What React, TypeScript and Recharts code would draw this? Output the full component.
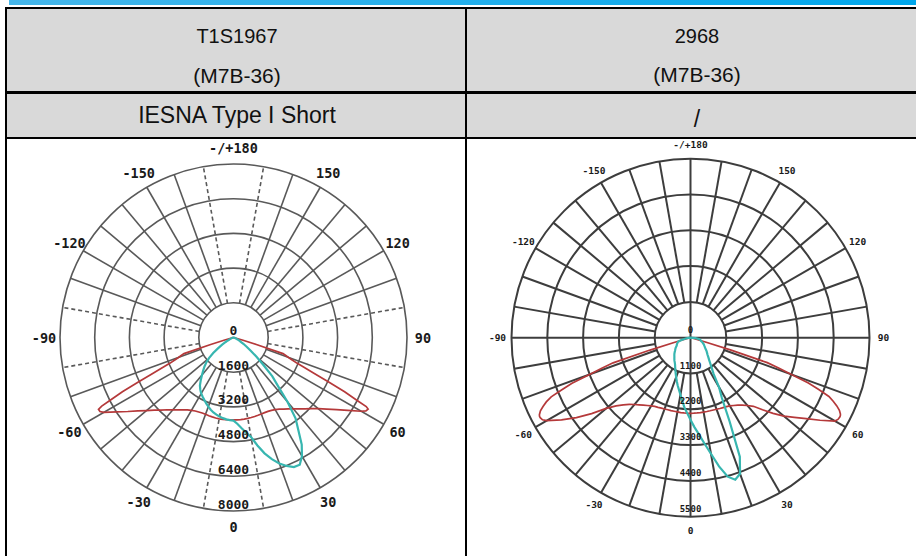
import { RadarChart, Radar, PolarGrid, PolarAngleAxis, PolarRadiusAxis } from "recharts";

// vertical angle (gamma) of each sample, degrees; 0 = nadir, +/-90 = horizontal
const GAMMA = [
  -90, -85, -80, -76, -74, -73, -72, -71, -70, -69, -68, -67, -66, -65, -64, -63, -62.5, -62, -61, -60,
  -57.5, -55, -52.5, -50, -47.5, -45, -42.5, -40, -37.5, -35, -32.5, -30, -27.5, -25, -22.5, -20, -17.5, -15, -12.5, -10, -7.5, -5, -2.5,
  0,
  2.5, 5, 7.5, 10, 12.5, 15, 17.5, 20, 22.5, 25, 27.5, 30, 32.5, 35, 37.5, 40, 42.5, 45, 47.5, 50, 52.5, 55, 57.5,
  60, 61, 62, 62.5, 63, 64, 65, 66, 67, 68, 69, 70, 71, 72, 73, 74, 76, 80, 85, 90,
];

// T1S1967 candela, C0-180 plane (red)
const LEFT_C0 = [
  0, 5, 20, 90, 420, 1100, 2400, 2550, 2700, 2900, 3150, 3550, 4100, 4800, 5700, 6400, 6850, 7050, 7040, 6900,
  6380, 5950, 5560, 5240, 4960, 4730, 4520, 4360, 4200, 4070, 3960, 3880, 3820, 3790, 3770, 3770, 3780, 3790, 3800, 3810, 3805, 3800, 3798,
  3795,
  3798, 3800, 3795, 3790, 3780, 3770, 3760, 3750, 3750, 3760, 3790, 3840, 3920, 4030, 4150, 4300, 4460, 4650, 4860, 5100, 5420, 5800, 6250,
  6800, 6980, 7030, 6900, 6400, 5700, 4800, 4100, 3550, 3150, 2900, 2700, 2550, 2400, 1100, 420, 90, 20, 5, 0,
];

// T1S1967 candela, C90-270 plane (teal)
const LEFT_C90 = [
  0, 5, 20, 45, 60, 70, 80, 85, 90, 100, 115, 130, 150, 180, 210, 250, 275, 300, 350, 415,
  620, 875, 1180, 1475, 1700, 1890, 2070, 2260, 2480, 2700, 2850, 2980, 3080, 3180, 3290, 3390, 3490, 3580, 3640, 3700, 3750, 3790, 3810,
  3830,
  3980, 4190, 4420, 4660, 5100, 5530, 5880, 6180, 6410, 6590, 6615, 6315, 5855, 5210, 4700, 3870, 3040, 2535, 1845, 1385, 1015, 740, 540,
  370, 330, 300, 285, 270, 240, 185, 160, 140, 120, 105, 90, 80, 70, 60, 50, 40, 20, 5, 0,
];

// 2968 candela, C0-180 plane (red)
const RIGHT_C0 = [
  0, 5, 20, 100, 450, 1300, 2500, 2900, 3300, 3900, 4250, 4650, 4850, 5000, 5130, 5210, 5230, 5230, 5200, 5100,
  4700, 4280, 3830, 3380, 3100, 2920, 2780, 2680, 2600, 2530, 2470, 2420, 2380, 2360, 2340, 2330, 2320, 2320, 2315, 2315, 2320, 2320, 2322,
  2325,
  2322, 2320, 2320, 2320, 2322, 2325, 2330, 2340, 2355, 2370, 2390, 2420, 2470, 2530, 2610, 2720, 2860, 3130, 3440, 3750, 4020, 4340, 4720,
  5120, 5180, 5195, 5190, 5170, 5090, 4960, 4800, 4620, 4250, 3880, 3300, 2880, 2480, 1280, 450, 100, 20, 5, 0,
];

// 2968 candela, C90-270 plane (teal)
const RIGHT_C90 = [
  0, 60, 150, 280, 340, 370, 400, 410, 420, 425, 430, 440, 450, 460, 465, 470, 475, 478, 484, 490,
  525, 560, 590, 620, 660, 700, 735, 770, 815, 860, 900, 950, 1020, 1100, 1190, 1290, 1400, 1520, 1640, 1780, 1950, 2150, 2320,
  2520,
  2750, 2980, 3280, 3620, 4050, 4420, 4575, 4450, 3960, 2850, 2090, 1750, 1320, 1140, 1000, 890, 810, 740, 690, 645, 595, 550, 520,
  490, 480, 470, 465, 460, 450, 430, 420, 410, 400, 390, 370, 360, 350, 340, 330, 320, 280, 150, 0,
];

const ANGLE_TICKS = [-150, -120, -90, -60, -30, 0, 30, 60, 90, 120, 150, 180];
const LEFT_RINGS = [0, 1600, 3200, 4800, 6400, 8000];
const RIGHT_RINGS = [0, 1100, 2200, 3300, 4400, 5500];

const SPOKES = [
  -170, -160, -150, -140, -130, -120, -110, -100, -80, -70, -60, -50, -40, -30, -20, -10,
  10, 20, 30, 40, 50, 60, 70, 80, 100, 110, 120, 130, 140, 150, 160, 170,
];
const NEAR_AXIS = [-170, -100, -80, -10, 10, 80, 100, 170];
const AXES = [-90, 0, 90, 180];

const START_ANGLE = -270;
const END_ANGLE = 90;
const toScreen = (g: number) => START_ANGLE + ((g + 180) / 360) * (END_ANGLE - START_ANGLE);

const RED = "#b5393a";
const TEAL = "#37b6b0";
const MONO = "DejaVu Sans Mono, monospace";

type DiagramProps = {
  left: number;
  top: number;
  width: number;
  height: number;
  cx: number;
  cy: number;
  outer: number;
  rings: number[];
  c0: number[];
  c90: number[];
  solid: number[];
  dashed: number[];
  axisLines: boolean;
  gridColor: string;
  gridWidth: number;
  angleFont: number;
  radiusFont: number;
  tickGap: number;
  labelLift: number;
  fmtRadius: (v: number) => string;
};

function PolarDiagram(p: DiagramProps) {
  const rows = GAMMA.map((g, i) => ({ g, c0: p.c0[i], c90: p.c90[i] }));
  const last = p.rings[p.rings.length - 1];
  const inner = (p.outer * p.rings[1]) / last;
  const common = {
    width: p.width,
    height: p.height,
    cx: p.cx,
    cy: p.cy,
    outerRadius: p.outer,
    startAngle: START_ANGLE,
    endAngle: END_ANGLE,
    margin: { top: 0, right: 0, bottom: 0, left: 0 },
    data: rows,
  };

  return (
    <div style={{ position: "absolute", left: p.left, top: p.top, width: p.width, height: p.height }}>
      {p.axisLines && (
        <div style={{ position: "absolute", left: 0, top: 0 }}>
          <RadarChart {...common} innerRadius={0}>
            <PolarGrid
              polarAngles={AXES.map(toScreen)}
              polarRadius={[]}
              stroke={p.gridColor}
              strokeWidth={p.gridWidth}
            />
          </RadarChart>
        </div>
      )}
      <div style={{ position: "absolute", left: 0, top: 0 }}>
        <RadarChart {...common} innerRadius={inner}>
          <PolarGrid gridType="circle" radialLines={false} stroke={p.gridColor} strokeWidth={p.gridWidth} />
          <PolarGrid polarAngles={p.solid.map(toScreen)} polarRadius={[]} stroke={p.gridColor} strokeWidth={p.gridWidth} />
          <PolarGrid
            polarAngles={p.dashed.map(toScreen)}
            polarRadius={[]}
            stroke={p.gridColor}
            strokeWidth={p.gridWidth}
            strokeDasharray="4 3"
          />
          <PolarAngleAxis
            dataKey="g"
            type="number"
            domain={[-180, 180]}
            ticks={ANGLE_TICKS}
            tickLine={false}
            axisLine={false}
            tickSize={p.tickGap}
            tick={(t: any) => (
              <text
                x={t.x}
                y={t.y}
                textAnchor="middle"
                dominantBaseline="central"
                fontFamily={MONO}
                fontWeight="bold"
                fontSize={p.angleFont}
                fill="#1a1a1a"
              >
                {t.payload.value === 180 ? "-/+180" : String(t.payload.value)}
              </text>
            )}
          />
          <PolarRadiusAxis
            angle={-90}
            type="number"
            domain={[p.rings[1], last]}
            allowDataOverflow
            ticks={p.rings}
            axisLine={false}
            tick={(t: any) => (
              <text
                x={t.x}
                y={t.y - p.labelLift}
                textAnchor="middle"
                dominantBaseline="central"
                fontFamily={MONO}
                fontWeight="bold"
                fontSize={p.radiusFont}
                fill="#1a1a1a"
              >
                {p.fmtRadius(t.payload.value)}
              </text>
            )}
          />
          <Radar dataKey="c0" stroke={RED} strokeWidth={1.7} fill="none" fillOpacity={0} dot={false} isAnimationActive={false} />
          <Radar dataKey="c90" stroke={TEAL} strokeWidth={2.2} fill="none" fillOpacity={0} dot={false} isAnimationActive={false} />
        </RadarChart>
      </div>
    </div>
  );
}

const HEAD_BG = "#d9d9d9";

function Cell({ left, top, width, size, text }: { left: number; top: number; width: number; size: number; text: string }) {
  return (
    <div
      style={{
        position: "absolute",
        left,
        top,
        width,
        fontSize: size,
        lineHeight: `${size}px`,
        textAlign: "center",
        color: "#111",
        whiteSpace: "nowrap",
      }}
    >
      {text}
    </div>
  );
}

export default function App() {
  const line = (l: number, t: number, w: number, h: number) => (
    <div style={{ position: "absolute", left: l, top: t, width: w, height: h, background: "#000" }} />
  );
  return (
    <div
      style={{
        position: "absolute",
        left: 0,
        top: 0,
        width: 916,
        height: 556,
        overflow: "hidden",
        background: "#fff",
        fontFamily: '"Liberation Sans", Arial, sans-serif',
      }}
    >
      <div
        style={{
          position: "absolute",
          left: 9,
          top: 0,
          width: 907,
          height: 4.5,
          background: "linear-gradient(90deg, #45b6ea, #00a7ec)",
        }}
      />
      <div style={{ position: "absolute", left: 6, top: 8, width: 930, height: 130, background: HEAD_BG }} />

      <Cell left={8} top={25.8} width={458} size={20} text="T1S1967" />
      <Cell left={8} top={64.5} width={458} size={21} text="(M7B-36)" />
      <Cell left={8} top={103.8} width={458} size={23} text="IESNA Type I Short" />
      <Cell left={467} top={25.8} width={460} size={20} text="2968" />
      <Cell left={467} top={64} width={460} size={21} text="(M7B-36)" />
      <Cell left={467} top={108} width={460} size={23} text="/" />

      <PolarDiagram
        left={6}
        top={138}
        width={460}
        height={418}
        cx={227.5}
        cy={199.5}
        outer={173.5}
        rings={LEFT_RINGS}
        c0={LEFT_C0}
        c90={LEFT_C90}
        solid={SPOKES.filter((s) => !NEAR_AXIS.includes(s))}
        dashed={NEAR_AXIS}
        axisLines={false}
        gridColor="#595959"
        gridWidth={1.6}
        angleFont={13.5}
        radiusFont={13}
        tickGap={16}
        labelLift={7}
        fmtRadius={(v) => String(v)}
      />
      <PolarDiagram
        left={467}
        top={138}
        width={449}
        height={418}
        cx={223.5}
        cy={199.7}
        outer={179}
        rings={RIGHT_RINGS}
        c0={RIGHT_C0}
        c90={RIGHT_C90}
        solid={SPOKES}
        dashed={[]}
        axisLines={true}
        gridColor="#3d3d3d"
        gridWidth={2}
        angleFont={9.5}
        radiusFont={9}
        tickGap={14}
        labelLift={8}
        fmtRadius={(v) => String(v)}
      />

      {line(5, 6.5, 930, 2)}
      {line(5, 91, 930, 2.5)}
      {line(5, 137, 930, 2)}
      {line(5, 6.5, 2, 560)}
      {line(465, 6.5, 2, 560)}
    </div>
  );
}
